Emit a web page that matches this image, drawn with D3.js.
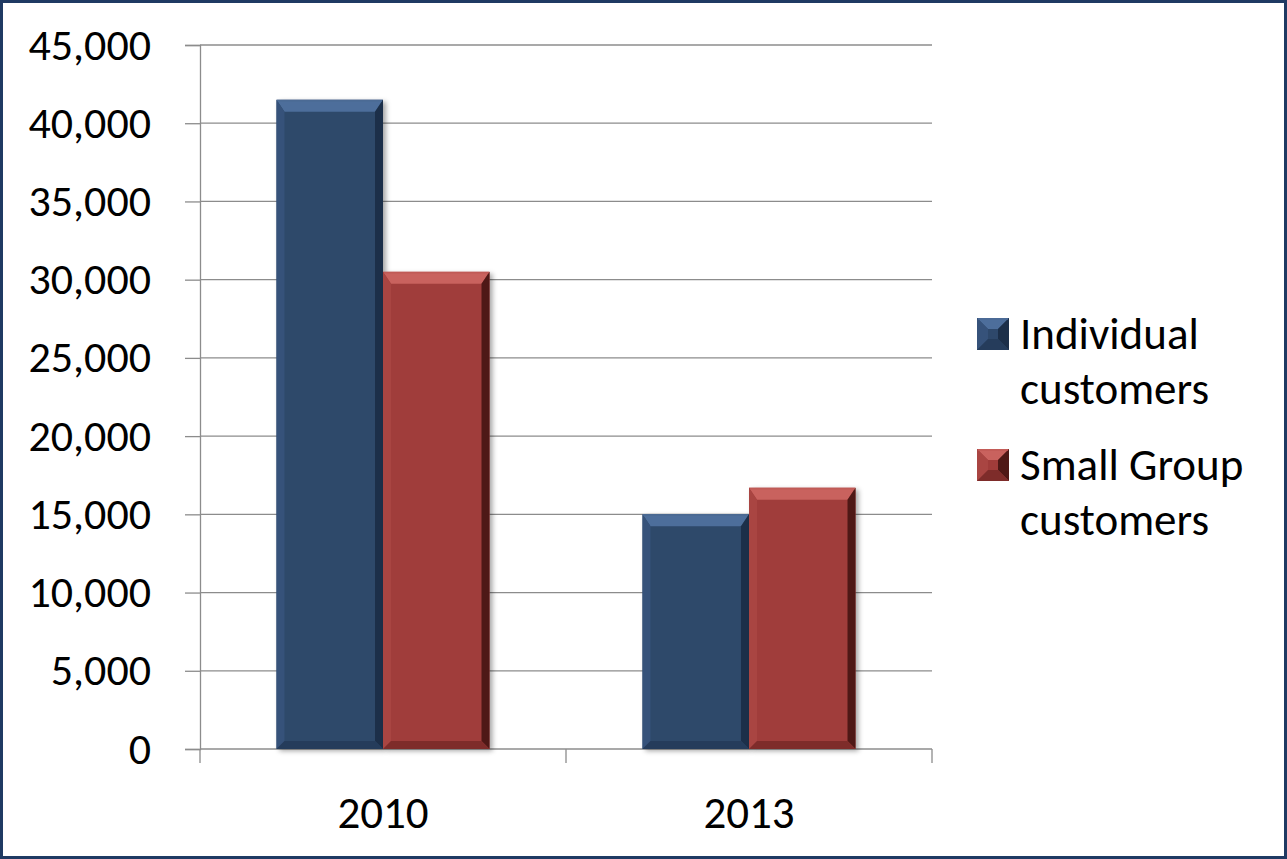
<!DOCTYPE html>
<html>
<head>
<meta charset="utf-8">
<script src="https://cdn.jsdelivr.net/npm/d3@7"></script>
<style>
  html, body { margin: 0; padding: 0; background: #fff; }
  svg { display: block; font-family: Carlito, Lato, "Noto Sans", sans-serif; }
</style>
</head>
<body>
<div id="chart"></div>
<script>
// Data
const years = ["2010", "2013"];
const seriesNames = ["Individual customers", "Small Group customers"];
const individual = [41500, 15000];
const smallGroup = [30500, 16700];
const yTicks = [0, 5000, 10000, 15000, 20000, 25000, 30000, 35000, 40000, 45000];

const width = 1287, height = 859;
const plot = { left: 200, right: 932, top: 45, bottom: 749 };

// Colour sets for the bevelled look
const palette = [
    { main: "#2e486b", top: "#4d6e9b", left: "#36527a", right: "#1c2f49", bottom: "#253c5b", edge: "#4b6a94" },
    { main: "#a03c3a", top: "#c9625e", left: "#a94542", right: "#4e1816", bottom: "#7e2c2a", edge: "#c05a56" }
];

const svg = d3.select("#chart").append("svg")
    .attr("width", width)
    .attr("height", height);

const defs = svg.append("defs");
const shadow = defs.append("filter").attr("id", "shadow")
    .attr("x", "-10%").attr("y", "-10%").attr("width", "130%").attr("height", "120%");
shadow.append("feDropShadow")
    .attr("dx", 3).attr("dy", 2).attr("stdDeviation", 2.5)
    .attr("flood-color", "#000").attr("flood-opacity", 0.35);

// Scales
const x0 = d3.scaleBand().domain(years)
    .range([plot.left, plot.right])
    .paddingInner(0.418).paddingOuter(0.209);
const x1 = d3.scaleBand().domain(d3.range(seriesNames.length))
    .range([0, x0.bandwidth()]);
const y = d3.scaleLinear().domain([0, 45000]).range([plot.bottom, plot.top]);

// Gridlines
svg.append("g").selectAll("line").data(yTicks).join("line")
    .attr("x1", plot.left).attr("x2", plot.right)
    .attr("y1", d => y(d)).attr("y2", d => y(d))
    .attr("stroke", "#8c8c8c").attr("stroke-width", 1.3);

// Y axis
const yAxis = svg.append("g")
    .attr("transform", `translate(${plot.left},0)`)
    .call(d3.axisLeft(y).tickValues(yTicks).tickSize(15).tickPadding(34)
        .tickFormat(d3.format(",")))
    .attr("font-family", null);
yAxis.select(".domain").attr("stroke", "#8c8c8c").attr("stroke-width", 1.3);
yAxis.selectAll(".tick line").attr("stroke", "#8c8c8c").attr("stroke-width", 1.3);
yAxis.selectAll(".tick text")
    .attr("font-size", 44).attr("fill", "#000");

// X axis
const xAxis = svg.append("g")
    .attr("transform", `translate(0,${plot.bottom})`)
    .call(d3.axisBottom(x0).tickSize(0).tickPadding(47))
    .attr("font-family", null);
xAxis.select(".domain").remove();
xAxis.selectAll(".tick text").attr("font-size", 45).attr("fill", "#000");

// category boundary ticks
const boundaries = [plot.left, x0(years[0]) + x0.bandwidth() + x0.step() * x0.paddingInner() / 2, plot.right];
svg.append("g").selectAll("line").data(boundaries).join("line")
    .attr("x1", d => d).attr("x2", d => d)
    .attr("y1", plot.bottom).attr("y2", plot.bottom + 14)
    .attr("stroke", "#8c8c8c").attr("stroke-width", 1.3);

// Bevelled bar drawing
function bevel(g, bx, by, bw, bh, c, b, side) {
    const grp = g.append("g");
    grp.append("rect").attr("x", bx).attr("y", by).attr("width", bw).attr("height", bh)
        .attr("fill", c.main).attr("filter", "url(#shadow)");
    const poly = (pts, fill) => grp.append("polygon")
        .attr("points", pts.map(p => p.join(",")).join(" ")).attr("fill", fill);
    const r = bx + bw, btm = by + bh, s = side;
    poly([[bx, by], [r, by], [r - s, by + b], [bx + s, by + b]], c.top);
    poly([[bx, by], [bx + s, by + b], [bx + s, btm - s], [bx, btm]], c.left);
    poly([[r, by], [r, btm], [r - s, btm - s], [r - s, by + b]], c.right);
    poly([[bx, btm], [bx + s, btm - s], [r - s, btm - s], [r, btm]], c.bottom);
    grp.append("line").attr("x1", bx + 1).attr("x2", r - 1).attr("y1", by + 1).attr("y2", by + 1)
        .attr("stroke", c.edge).attr("stroke-width", 1.5);
    return grp;
}

const barsG = svg.append("g");
const allSeries = [individual, smallGroup];
years.forEach((yr, i) => {
    allSeries.forEach((vals, s) => {
        const bx = x0(yr) + x1(s);
        const by = y(vals[i]);
        bevel(barsG, bx, by, x1.bandwidth(), plot.bottom - by, palette[s], 12, 8);
    });
});

// Legend
const legendItems = [
    { lines: ["Individual", "customers"], color: palette[0] },
    { lines: ["Small Group", "customers"], color: palette[1] }
];
const legend = svg.append("g").attr("transform", "translate(977,0)");
legendItems.forEach((item, i) => {
    const baseY = 349 + i * 131;
    bevel(legend, 0, baseY - 31, 32, 32, item.color, 11, 11).select("rect").attr("filter", null);
    legend.append("text")
        .attr("x", 43).attr("y", baseY)
        .attr("font-size", 45).attr("fill", "#000")
        .selectAll("tspan").data(item.lines).join("tspan")
        .attr("x", 43).attr("dy", (d, j) => j === 0 ? 0 : 55)
        .text(d => d);
});

// Outer border
svg.append("rect")
    .attr("x", 1.5).attr("y", 1.5).attr("width", width - 3).attr("height", height - 3)
    .attr("fill", "none").attr("stroke", "#1f3a63").attr("stroke-width", 3);
</script>
</body>
</html>
